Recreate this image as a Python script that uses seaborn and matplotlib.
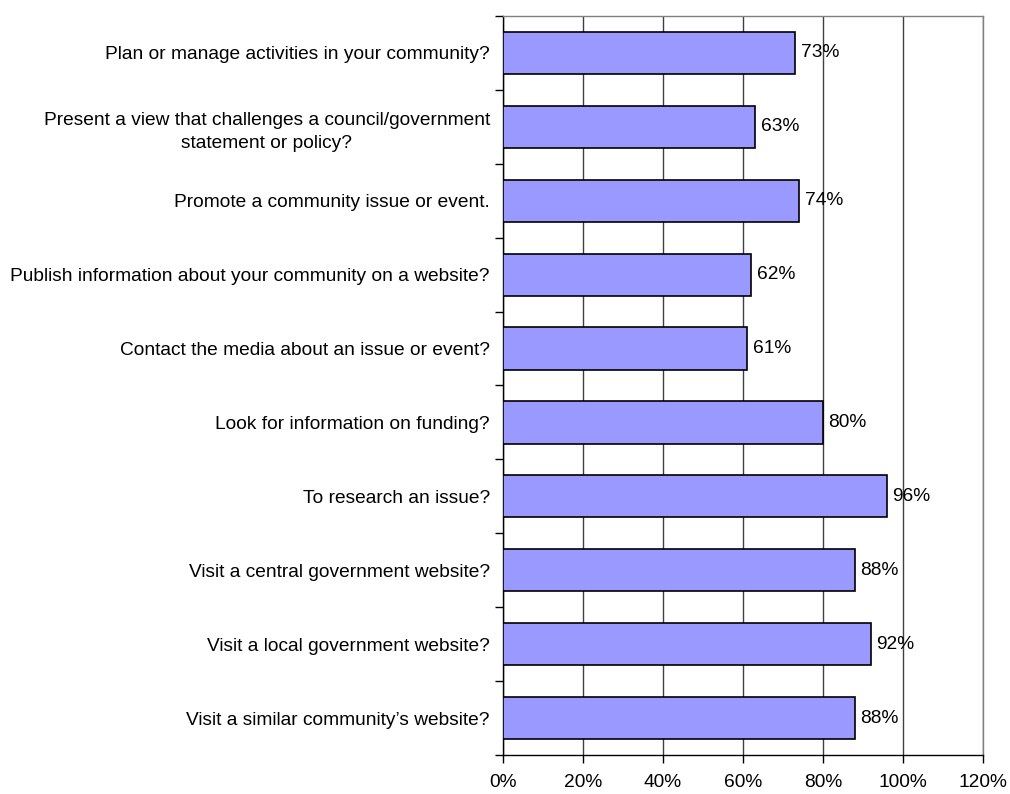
import matplotlib
matplotlib.use("Agg")
import matplotlib.pyplot as plt
import seaborn as sns
import pandas as pd
import numpy as np
from matplotlib.ticker import FixedLocator

categories = [
    "Plan or manage activities in your community?",
    "Present a view that challenges a council/government\nstatement or policy?",
    "Promote a community issue or event.",
    "Publish information about your community on a website?",
    "Contact the media about an issue or event?",
    "Look for information on funding?",
    "To research an issue?",
    "Visit a central government website?",
    "Visit a local government website?",
    "Visit a similar community\u2019s website?",
]
values = [73, 63, 74, 62, 61, 80, 96, 88, 92, 88]
xticks = [0, 20, 40, 60, 80, 100, 120]
xtick_labels = ["0%", "20%", "40%", "60%", "80%", "100%", "120%"]

sns.set_theme(style="white")
plt.rcParams["font.family"] = ["Liberation Sans", "DejaVu Sans"]

FS = 13.8

df = pd.DataFrame({"category": categories, "value": values})

fig = plt.figure(figsize=(10.10, 7.94), dpi=100)
ax = fig.add_axes([503 / 1010, 1 - 755 / 794, 480 / 1010, 739 / 794])

sns.barplot(data=df, x="value", y="category", orient="h", color="#9999FF",
            saturation=1, edgecolor="black", linewidth=1.2, width=0.57, ax=ax,
            zorder=3)

ax.set_xlim(0, 120)
ax.set_ylim(len(categories) - 0.5, -0.5)
ax.set_xticks(xticks)
ax.set_xticklabels(xtick_labels, fontsize=FS, color="black")
ax.set_xlabel("")
ax.set_ylabel("")

ax.xaxis.grid(True, color="#404040", linewidth=1, zorder=0)
ax.yaxis.grid(False)
ax.set_axisbelow(True)

ax.tick_params(axis="x", which="major", bottom=True, length=6, width=1,
               color="black", pad=8, direction="out")
ax.tick_params(axis="y", which="major", left=True, length=0, pad=9.5,
               labelsize=FS, labelcolor="black")
ax.yaxis.set_minor_locator(FixedLocator(np.arange(-0.5, len(categories), 1.0)))
ax.tick_params(axis="y", which="minor", left=True, length=6, width=1,
               color="black", direction="out")
for lab in ax.get_yticklabels():
    lab.set_multialignment("center")
    lab.set_linespacing(1.45)

for side in ["left", "bottom"]:
    ax.spines[side].set_color("black")
    ax.spines[side].set_linewidth(1)
for side in ["top", "right"]:
    ax.spines[side].set_color("#808080")
    ax.spines[side].set_linewidth(1)
    ax.spines[side].set_visible(True)

for container in ax.containers:
    ax.bar_label(container, labels=[f"{v}%" for v in values], padding=4,
                 fontsize=FS, color="black", zorder=5)

fig.savefig("out.png", dpi=100)
